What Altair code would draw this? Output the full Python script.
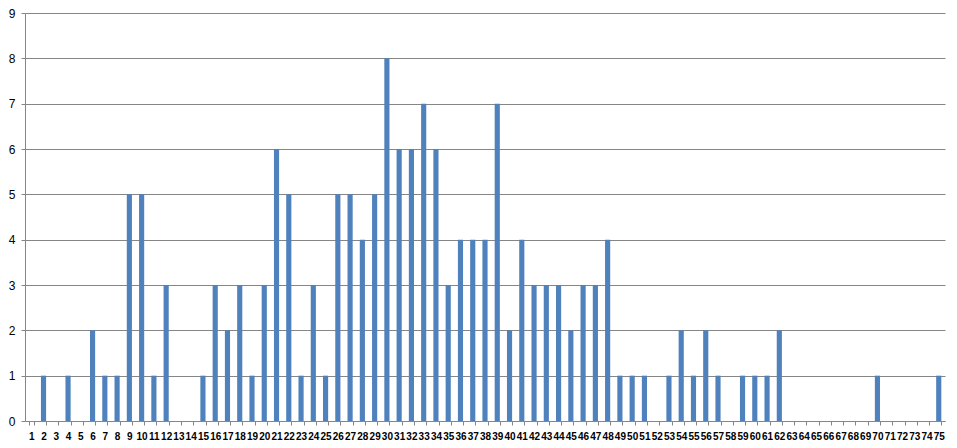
import altair as alt
import pandas as pd

categories = list(range(1, 76))
counts = [0, 1, 0, 1, 0, 2, 1, 1, 5, 5,
          1, 3, 0, 0, 1, 3, 2, 3, 1, 3,
          6, 5, 1, 3, 1, 5, 5, 4, 5, 8,
          6, 6, 7, 6, 3, 4, 4, 4, 7, 2,
          4, 3, 3, 3, 2, 3, 3, 4, 1, 1,
          1, 0, 1, 2, 1, 2, 1, 0, 1, 1,
          1, 2, 0, 0, 0, 0, 0, 0, 0, 1,
          0, 0, 0, 0, 1]
y_ticks = list(range(0, 10))

df = pd.DataFrame({"cat": [str(c) for c in categories], "value": counts})

chart = alt.Chart(df).mark_bar(color="#4F81BD").encode(
    x=alt.X("cat:N", sort=[str(c) for c in categories], title=None,
            scale=alt.Scale(paddingInner=0.58, paddingOuter=0.3),
            axis=alt.Axis(labelAngle=0, labelOverlap=False, tickBand="extent",
                          labelFont="Liberation Sans", labelFontSize=10, labelFontWeight="bold",
                          labelColor="#000000", labelPadding=6, tickSize=4,
                          tickColor="#868686", domainColor="#868686", grid=False)),
    y=alt.Y("value:Q", title=None,
            scale=alt.Scale(domain=[0, 9], nice=False),
            axis=alt.Axis(values=y_ticks, labelFont="Liberation Sans", labelFontSize=12,
                          labelColor="#000000", labelPadding=6, tickSize=4,
                          tickColor="#868686", domainColor="#868686",
                          gridColor="#868686", gridWidth=1)),
).properties(
    width=920, height=408,
    autosize=alt.AutoSizeParams(type="none"),
    padding={"left": 17, "top": 5, "right": 4, "bottom": 26},
).configure_view(stroke=None).configure_axis(domainWidth=1, tickWidth=1)

chart.save("out.html", embed_options={"renderer": "svg", "actions": False})
